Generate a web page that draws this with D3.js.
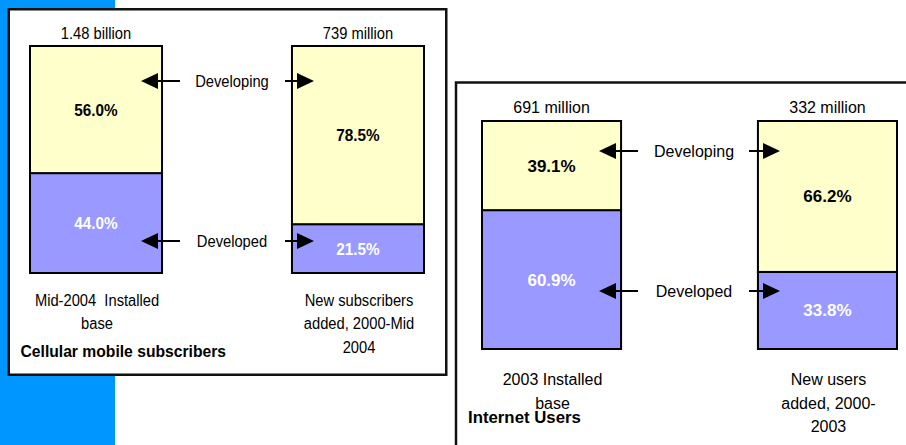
<!DOCTYPE html>
<html>
<head>
<meta charset="utf-8">
<script src="https://cdn.jsdelivr.net/npm/d3@7"></script>
<style>
  html, body { margin: 0; padding: 0; background: #fff; }
  svg { display: block; }
  text { font-family: "Liberation Sans", Arial, sans-serif; }
</style>
</head>
<body>
<svg id="chart" width="906" height="445"></svg>
<script>
// ---------- data ----------
const seriesNames = ["Developed", "Developing"];

const cellTitle = "Cellular mobile subscribers";
const cellCategories = ["Mid-2004 Installed base", "New subscribers added, 2000-Mid 2004"];
const cellCategoryLines = [["Mid-2004  Installed", "base"], ["New subscribers", "added, 2000-Mid", "2004"]];
const cellTotals = ["1.48 billion", "739 million"];
const cellDeveloped = [44.0, 21.5];
const cellDeveloping = [56.0, 78.5];

const netTitle = "Internet Users";
const netCategories = ["2003 Installed base", "New users added, 2000-2003"];
const netCategoryLines = [["2003 Installed", "base"], ["New users", "added, 2000-", "2003"]];
const netTotals = ["691 million", "332 million"];
const netDeveloped = [60.9, 33.8];
const netDeveloping = [39.1, 66.2];

// ---------- layout ----------
const colors = { Developed: "#9999ff", Developing: "#ffffcc" };
const labelColors = { Developed: "#ffffff", Developing: "#000000" };

const svg = d3.select("#chart");

// blue strip
svg.append("rect").attr("x", 0).attr("y", 0).attr("width", 115).attr("height", 445).attr("fill", "#0096ff");

const panels = [
  {
    title: cellTitle, categories: cellCategories, lines: cellCategoryLines, totals: cellTotals,
    developed: cellDeveloped, developing: cellDeveloping,
    box: [8.75, 9.25, 437.5, 365.5],
    xRange: [30, 424], yRange: [273, 46],
    totalY: 39, catY: 305.5, lineH: 23.7, titleX: 20.5, titleY: 357,
    fs: 16, sx: 0.92, pfs: 16.3, psx: 0.94, tfs: 16, tsx: 0.98,
    arrowY: { Developing: 81, Developed: 241 }, arrowTextX: 232,
    leftArrow: [180, 141], rightArrow: [285, 314]
  },
  {
    title: netTitle, categories: netCategories, lines: netCategoryLines, totals: netTotals,
    developed: netDeveloped, developing: netDeveloping,
    box: [456, 82.5, 500, 420],
    xRange: [482, 897], yRange: [349, 121],
    totalY: 113, catY: 385, lineH: 23.5, titleX: 468, titleY: 423,
    fs: 16, sx: 1.0, pfs: 17, psx: 1.0, tfs: 16, tsx: 1.05,
    arrowY: { Developing: 151, Developed: 291 }, arrowTextX: 694,
    leftArrow: [638, 599], rightArrow: [749, 780]
  }
];

function txt(g, x, y, s, opts) {
  const t = g.append("text")
    .attr("transform", `translate(${x},${y}) scale(${opts.sx || 1},1)`)
    .attr("text-anchor", opts.anchor || "middle")
    .attr("font-size", opts.fs)
    .attr("font-weight", opts.bold ? "bold" : "normal")
    .attr("fill", opts.fill || "#000")
    .style("white-space", "pre")
    .text(s);
  return t;
}

function arrow(g, x0, x1, y) {
  const dir = Math.sign(x1 - x0);
  const headLen = 17, half = 8;
  g.append("line")
    .attr("x1", x0).attr("y1", y)
    .attr("x2", x1 - dir * headLen).attr("y2", y)
    .attr("stroke", "#000").attr("stroke-width", 2);
  g.append("path")
    .attr("d", d3.line()([[x1, y], [x1 - dir * headLen, y - half], [x1 - dir * headLen, y + half]]) + "Z")
    .attr("fill", "#000");
}

panels.forEach(p => {
  const g = svg.append("g");
  const [bx, by, bw, bh] = p.box;
  g.append("rect").attr("x", bx).attr("y", by).attr("width", bw).attr("height", bh)
    .attr("fill", "#fff").attr("stroke", "#111").attr("stroke-width", 2.5);

  const x = d3.scaleBand().domain(p.categories).range(p.xRange).paddingInner(0.496).paddingOuter(0);
  const y = d3.scaleLinear().domain([0, 100]).range(p.yRange);

  const rows = p.categories.map((c, i) => ({ cat: c, Developed: p.developed[i], Developing: p.developing[i] }));
  const stacked = d3.stack().keys(seriesNames)(rows);

  stacked.forEach(layer => {
    const key = layer.key;
    g.selectAll(null).data(layer).enter().append("rect")
      .attr("x", d => x(d.data.cat))
      .attr("y", d => y(d[1]))
      .attr("width", x.bandwidth())
      .attr("height", d => y(d[0]) - y(d[1]))
      .attr("fill", colors[key])
      .attr("stroke", "#000").attr("stroke-width", 2);
    layer.forEach(d => {
      const cx = x(d.data.cat) + x.bandwidth() / 2;
      const cy = (y(d[0]) + y(d[1])) / 2 + 6;
      txt(g, cx, cy, d3.format(".1f")(d.data[key]) + "%", { fs: p.pfs, sx: p.psx, bold: true, fill: labelColors[key] });
    });
  });

  // totals above bars
  p.categories.forEach((c, i) => {
    const cx = x(c) + x.bandwidth() / 2;
    txt(g, cx, p.totalY, p.totals[i], { fs: p.fs, sx: p.sx });
    p.lines[i].forEach((ln, j) => {
      txt(g, cx + 1, p.catY + j * p.lineH, ln, { fs: p.fs, sx: p.sx });
    });
  });

  // annotation arrows
  ["Developing", "Developed"].forEach(k => {
    const ay = p.arrowY[k];
    arrow(g, p.leftArrow[0], p.leftArrow[1], ay);
    arrow(g, p.rightArrow[0], p.rightArrow[1], ay);
    txt(g, p.arrowTextX, ay + 5.5, k, { fs: p.fs, sx: p.sx });
  });

  // panel title
  txt(g, p.titleX, p.titleY, p.title, { fs: p.tfs, sx: p.tsx, bold: true, anchor: "start" });
});
</script>
</body>
</html>
